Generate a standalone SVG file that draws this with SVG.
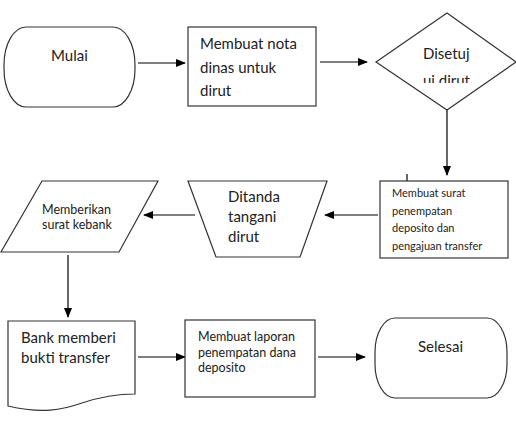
<svg xmlns="http://www.w3.org/2000/svg" width="516" height="423" viewBox="0 0 516 423">
<style>
.s{fill:#fff;stroke:#333;stroke-width:1.2}
.c{stroke:#000;stroke-width:1.2;fill:none}
text{font-family:Lato,"Open Sans",sans-serif;fill:#222}
.l{font-size:15px}
.m{font-size:12.5px}
.t{font-size:11px}
</style>
<defs>
<marker id="ah" markerWidth="10" markerHeight="8" refX="9" refY="4" orient="auto" markerUnits="userSpaceOnUse">
<path d="M0,0 L10,4 L0,8 Z" fill="#000"/>
</marker>
<clipPath id="dclip"><rect x="376" y="13" width="140" height="70"/></clipPath>
</defs>
<rect width="516" height="423" fill="#fff"/>
<g id="connectors">
<line class="c" x1="138" y1="63" x2="185" y2="63" marker-end="url(#ah)"/>
<line class="c" x1="320" y1="62" x2="367" y2="62" marker-end="url(#ah)"/>
<line class="c" x1="447" y1="110" x2="447" y2="175" marker-end="url(#ah)"/>
<line class="c" x1="378" y1="215" x2="325" y2="215" marker-end="url(#ah)"/>
<line class="c" x1="195" y1="215" x2="144" y2="215" marker-end="url(#ah)"/>
<line class="c" x1="68" y1="255" x2="68" y2="317" marker-end="url(#ah)"/>
<line class="c" x1="138" y1="357" x2="185" y2="357" marker-end="url(#ah)"/>
<line class="c" x1="318" y1="357" x2="365" y2="357" marker-end="url(#ah)"/>
<line class="c" x1="407" y1="174" x2="407" y2="181"/>
</g>
<g id="mulai">
<rect class="s" x="4" y="27" width="131" height="80" rx="22" ry="38"/>
<text class="l" x="51" y="61">Mulai</text>
</g>
<g id="nota">
<rect class="s" x="188" y="27" width="128" height="79"/>
<text class="l" x="200" y="49">Membuat nota</text>
<text class="l" x="200" y="73">dinas untuk</text>
<text class="l" x="200" y="96">dirut</text>
</g>
<g id="disetujui">
<polygon class="s" points="376,62 447,13 516,62 447,110"/>
<g clip-path="url(#dclip)">
<text class="l" x="423" y="59">Disetuj</text>
<text class="l" x="423" y="86">ui dirut</text>
</g>
</g>
<g id="surat">
<rect class="s" x="380" y="181" width="128" height="77"/>
<text class="t" x="392" y="197">Membuat surat</text>
<text class="t" x="392" y="214.5">penempatan</text>
<text class="t" x="392" y="232">deposito dan</text>
<text class="t" x="392" y="249.5">pengajuan transfer</text>
</g>
<g id="ditanda">
<polygon class="s" points="188,181 327,181 300,257 216,257"/>
<text class="l" x="228" y="202">Ditanda</text>
<text class="l" x="228" y="222">tangani</text>
<text class="l" x="228" y="242">dirut</text>
</g>
<g id="memberikan">
<polygon class="s" points="42,181 158,181 119,252 1,252"/>
<text class="m" x="42" y="214">Memberikan</text>
<text class="m" x="42" y="229">surat kebank</text>
</g>
<g id="bank">
<path class="s" d="M8,321 H135 V394 C118,394 100,397 82,403 C62,410 42,414 8,406 Z"/>
<text class="l" x="21" y="343">Bank memberi</text>
<text class="l" x="21" y="363">bukti transfer</text>
</g>
<g id="laporan">
<rect class="s" x="185" y="320" width="130" height="77"/>
<text class="m" x="198" y="341">Membuat laporan</text>
<text class="m" x="198" y="357">penempatan dana</text>
<text class="m" x="198" y="372">deposito</text>
</g>
<g id="selesai">
<rect class="s" x="375" y="318" width="132" height="80" rx="20" ry="34"/>
<text class="l" x="418" y="352">Selesai</text>
</g>
</svg>
